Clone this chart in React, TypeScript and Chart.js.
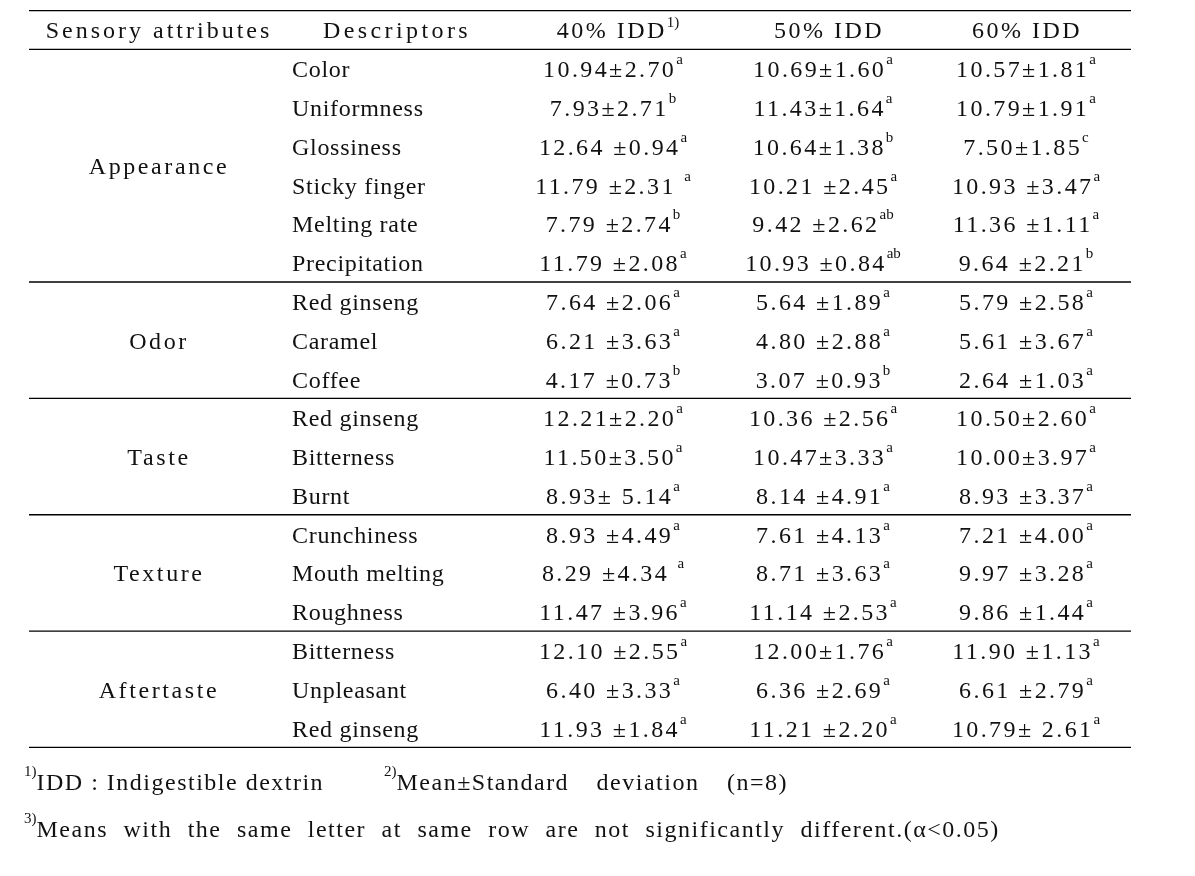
import React, { useEffect, useRef } from "react";
import { Chart, registerables } from "chart.js";

Chart.register(...registerables);

// ---------- data ----------
const headers = ["Sensory attributes", "Descriptors", "40% IDD", "50% IDD", "60% IDD"];
const headerSups = ["", "", "1)", "", ""];

const attributes = ["Appearance", "Odor", "Taste", "Texture", "Aftertaste"];
const attributeSizes = [6, 3, 3, 3, 3];

const descriptors = [
  "Color", "Uniformness", "Glossiness", "Sticky finger", "Melting rate", "Precipitation",
  "Red ginseng", "Caramel", "Coffee",
  "Red ginseng", "Bitterness", "Burnt",
  "Crunchiness", "Mouth melting", "Roughness",
  "Bitterness", "Unpleasant", "Red ginseng",
];

const values40 = [
  "10.94±2.70", "7.93±2.71", "12.64 ±0.94", "11.79 ±2.31 ", "7.79 ±2.74", "11.79 ±2.08",
  "7.64 ±2.06", "6.21 ±3.63", "4.17 ±0.73",
  "12.21±2.20", "11.50±3.50", "8.93± 5.14",
  "8.93 ±4.49", "8.29 ±4.34 ", "11.47 ±3.96",
  "12.10 ±2.55", "6.40 ±3.33", "11.93 ±1.84",
];
const letters40 = ["a", "b", "a", "a", "b", "a", "a", "a", "b", "a", "a", "a", "a", "a", "a", "a", "a", "a"];

const values50 = [
  "10.69±1.60", "11.43±1.64", "10.64±1.38", "10.21 ±2.45", "9.42 ±2.62", "10.93 ±0.84",
  "5.64 ±1.89", "4.80 ±2.88", "3.07 ±0.93",
  "10.36 ±2.56", "10.47±3.33", "8.14 ±4.91",
  "7.61 ±4.13", "8.71 ±3.63", "11.14 ±2.53",
  "12.00±1.76", "6.36 ±2.69", "11.21 ±2.20",
];
const letters50 = ["a", "a", "b", "a", "ab", "ab", "a", "a", "b", "a", "a", "a", "a", "a", "a", "a", "a", "a"];

const values60 = [
  "10.57±1.81", "10.79±1.91", "7.50±1.85", "10.93 ±3.47", "11.36 ±1.11", "9.64 ±2.21",
  "5.79 ±2.58", "5.61 ±3.67", "2.64 ±1.03",
  "10.50±2.60", "10.00±3.97", "8.93 ±3.37",
  "7.21 ±4.00", "9.97 ±3.28", "9.86 ±1.44",
  "11.90 ±1.13", "6.61 ±2.79", "10.79± 2.61",
];
const letters60 = ["a", "a", "c", "a", "a", "b", "a", "a", "a", "a", "a", "a", "a", "a", "a", "a", "a", "a"];

const footnoteSups = ["1)", "2)", "3)"];
const footnoteTexts = [
  "IDD : Indigestible dextrin",
  "Mean±Standard deviation (n=8)",
  "Means with the same letter at same row are not significantly different.(α<0.05)",
];

// ---------- layout / style ----------
const W = 1195;
const H = 876;
const ROW_PITCH = 38.78;
const TABLE_TOP = 10.6;
const TABLE_BOTTOM = TABLE_TOP + ROW_PITCH * 19;
const LINE_LEFT = 29;
const LINE_RIGHT = 1131;
const COL_X = [159, 292, 613, 823, 1026];
const HEADER_X = [159, 397, 618, 829, 1027];
const FONT = '"Liberation Serif", "Times New Roman", serif';
const FS = 24;
const SUP_FS = 15;
const INK = "#111111";

const rowLabels = ["header", ...descriptors.map((d, i) => `${i + 1}:${d}`)];

function drawText(
  ctx: CanvasRenderingContext2D,
  text: string,
  sup: string,
  x: number,
  baseline: number,
  align: "center" | "left",
  spacing: number,
  supLift: number,
  wordSpacing = 0,
  supFirst = false
) {
  ctx.save();
  ctx.fillStyle = INK;
  ctx.textAlign = "left";
  ctx.textBaseline = "alphabetic";
  const setMain = () => {
    ctx.font = `${FS}px ${FONT}`;
    (ctx as any).letterSpacing = `${spacing}px`;
    (ctx as any).wordSpacing = `${wordSpacing}px`;
  };
  const setSup = () => {
    ctx.font = `${SUP_FS}px ${FONT}`;
    (ctx as any).letterSpacing = "0px";
    (ctx as any).wordSpacing = "0px";
  };
  setMain();
  const w = ctx.measureText(text).width;
  setSup();
  const sw = sup ? ctx.measureText(sup).width : 0;
  const total = w + sw;
  const left = align === "center" ? x - total / 2 : x;
  if (supFirst) {
    if (sup) ctx.fillText(sup, left, baseline - supLift);
    setMain();
    ctx.fillText(text, left + sw, baseline);
  } else {
    setMain();
    ctx.fillText(text, left, baseline);
    if (sup) {
      setSup();
      ctx.fillText(sup, left + w, baseline - supLift);
    }
  }
  ctx.restore();
}

const tablePlugin = {
  id: "tablePlugin",
  afterDatasetsDraw(chart: any) {
    const ctx: CanvasRenderingContext2D = chart.ctx;
    const xs = chart.scales.x;
    const ys = chart.scales.y;
    const area = chart.chartArea;
    const BASE = 8.5;

    // rules
    const boundaries: number[] = [area.top];
    const between = (i: number) => (ys.getPixelForValue(i - 1) + ys.getPixelForValue(i)) / 2;
    boundaries.push(between(1));
    let acc = 1;
    attributeSizes.forEach((n, gi) => {
      acc += n;
      if (gi < attributeSizes.length - 1) boundaries.push(between(acc));
    });
    boundaries.push(area.bottom);
    ctx.save();
    ctx.strokeStyle = "#000";
    ctx.lineWidth = 1.4;
    const lx0 = xs.getPixelForValue(LINE_LEFT);
    const lx1 = xs.getPixelForValue(LINE_RIGHT);
    boundaries.forEach((y) => {
      ctx.beginPath();
      ctx.moveTo(lx0, y);
      ctx.lineTo(lx1, y);
      ctx.stroke();
    });
    ctx.restore();

    // header
    const hy = ys.getPixelForValue(0) + BASE;
    const headerSpacing = [3, 3.4, 2.5, 2.5, 2.5];
    headers.forEach((h, i) => {
      drawText(ctx, h, headerSups[i], xs.getPixelForValue(HEADER_X[i]), hy, "center", headerSpacing[i], 11);
    });

    // attribute groups
    let start = 1;
    attributes.forEach((a, gi) => {
      const end = start + attributeSizes[gi] - 1;
      const cy = (ys.getPixelForValue(start) + ys.getPixelForValue(end)) / 2;
      drawText(ctx, a, "", xs.getPixelForValue(COL_X[0]), cy + BASE, "center", 2.6, 0);
      start = end + 1;
    });

    // datasets: descriptors and values
    const letterSets = [null, letters40, letters50, letters60];
    const textSets = [descriptors, values40, values50, values60];
    chart.data.datasets.forEach((ds: any, di: number) => {
      const meta = chart.getDatasetMeta(di);
      meta.data.forEach((el: any, j: number) => {
        const txt = textSets[di][j];
        const sup = letterSets[di] ? (letterSets[di] as string[])[j] : "";
        if (di === 0) {
          drawText(ctx, txt, "", el.x, el.y + BASE, "left", 0.7, 0);
        } else {
          drawText(ctx, txt, sup, el.x, el.y + BASE, "center", 2.4, 13);
        }
      });
    });

    // footnotes
    const f1 = area.bottom + 43;
    const f2 = area.bottom + 90;
    drawText(ctx, footnoteTexts[0], footnoteSups[0], xs.getPixelForValue(24), f1, "left", 1.5, 14, 0, true);
    drawText(ctx, footnoteTexts[1], footnoteSups[1], xs.getPixelForValue(384), f1, "left", 1.5, 14, 20, true);
    drawText(ctx, footnoteTexts[2], footnoteSups[2], xs.getPixelForValue(24), f2, "left", 1.5, 14, 8, true);
  },
};

export default function App() {
  const ref = useRef<HTMLCanvasElement | null>(null);

  useEffect(() => {
    document.body.style.margin = "0";
    document.body.style.background = "#ffffff";
    const canvas = ref.current;
    if (!canvas) return;
    const mk = (xv: number, arr: string[]) => arr.map((_, i) => ({ x: xv, y: rowLabels[i + 1] }));
    const chart = new Chart(canvas, {
      type: "scatter",
      data: {
        datasets: [
          { label: "Descriptors", data: mk(COL_X[1], descriptors), pointRadius: 0, pointHoverRadius: 0 },
          { label: "40% IDD", data: mk(COL_X[2], values40), pointRadius: 0, pointHoverRadius: 0 },
          { label: "50% IDD", data: mk(COL_X[3], values50), pointRadius: 0, pointHoverRadius: 0 },
          { label: "60% IDD", data: mk(COL_X[4], values60), pointRadius: 0, pointHoverRadius: 0 },
        ],
      },
      options: {
        responsive: false,
        animation: false,
        events: [],
        layout: { padding: { left: 0, right: 0, top: TABLE_TOP, bottom: H - TABLE_BOTTOM } },
        plugins: { legend: { display: false }, tooltip: { enabled: false } },
        scales: {
          x: { type: "linear", min: 0, max: W, display: false },
          y: { type: "category", labels: rowLabels, offset: true, display: false },
        },
      },
      plugins: [tablePlugin],
    });
    return () => chart.destroy();
  }, []);

  return (
    <div style={{ width: W, height: H, background: "#fff" }}>
      <canvas ref={ref} width={W} height={H} style={{ display: "block", width: W, height: H }} />
    </div>
  );
}
